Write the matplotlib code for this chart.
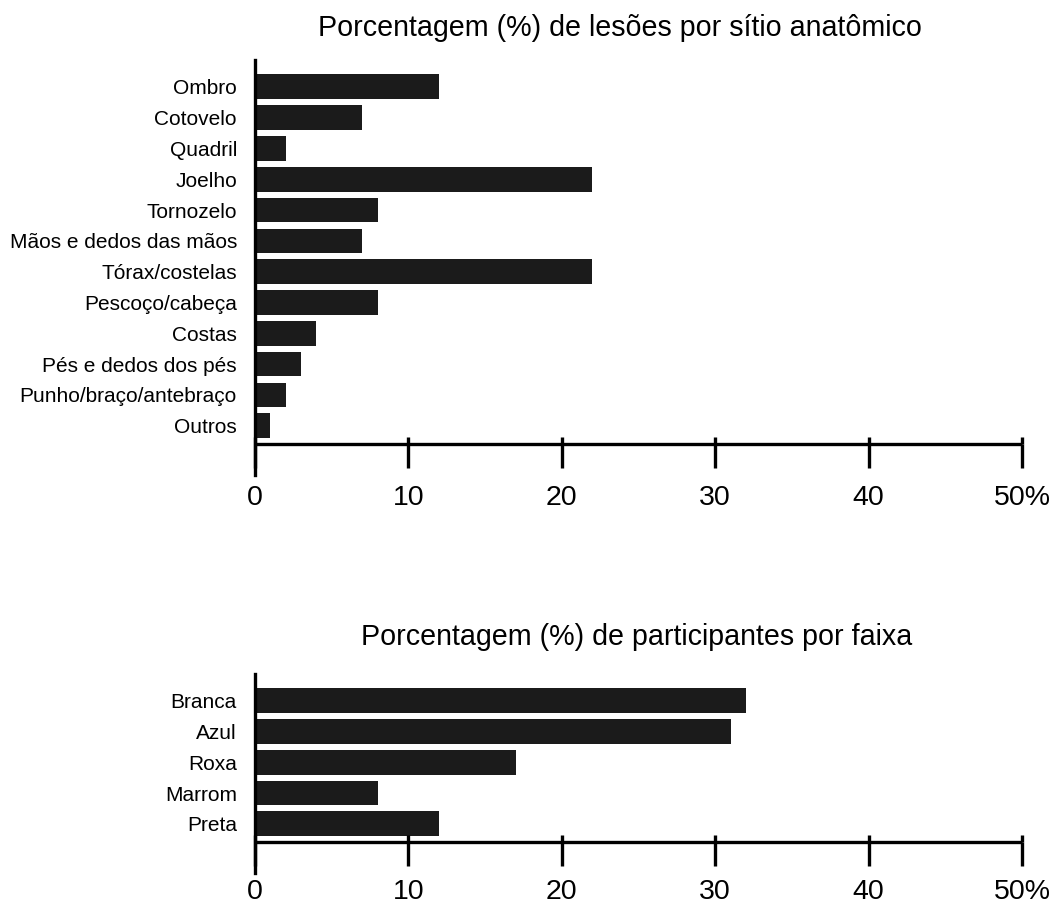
import matplotlib
matplotlib.use("Agg")
import matplotlib.pyplot as plt
import numpy as np

# data
sites = ["Ombro", "Cotovelo", "Quadril", "Joelho", "Tornozelo",
         "Mãos e dedos das mãos", "Tórax/costelas", "Pescoço/cabeça",
         "Costas", "Pés e dedos dos pés", "Punho/braço/antebraço", "Outros"]
site_pct = [12, 7, 2, 22, 8, 7, 22, 8, 4, 3, 2, 1]

belts = ["Branca", "Azul", "Roxa", "Marrom", "Preta"]
belt_pct = [32, 31, 17, 8, 12]

xticks = [0, 10, 20, 30, 40, 50]
xtick_labels = ["0", "10", "20", "30", "40", "50%"]

titles = ["Porcentagem (%) de lesões por sítio anatômico",
          "Porcentagem (%) de participantes por faixa"]

plt.rcParams['font.family'] = ['Liberation Sans', 'DejaVu Sans']

BAR = '#1b1b1b'
LW = 2.4

fig = plt.figure(figsize=(10.56, 9.06), dpi=100)
W, H = 1056, 906


def panel(rect_px, cats, vals, title, title_x, title_dy, label_pad):
    x0, y0, x1, y1 = rect_px  # pixel box, y from top
    ax = fig.add_axes([x0 / W, 1 - y1 / H, (x1 - x0) / W, (y1 - y0) / H])
    n = len(cats)
    pos = np.arange(n)
    ax.barh(pos, vals, height=0.8, color=BAR, zorder=1)
    ax.set_ylim(n - 1 + 1.6, -0.87)
    ax.set_xlim(0, 50)
    ax.set_yticks(pos)
    ax.set_yticklabels(cats, fontsize=15)
    ax.tick_params(axis='y', length=0, pad=13)
    ax.spines['top'].set_visible(False)
    ax.spines['right'].set_visible(False)
    ax.spines['left'].set_linewidth(LW)
    ax.spines['bottom'].set_linewidth(LW)
    ax.spines['bottom'].set_position(('data', n - 1 + 0.6))
    ax.spines['bottom'].set_capstyle('butt')
    ax.set_xticks(xticks)
    ax.set_xticklabels(xtick_labels, fontsize=20.5)
    ax.set_xticks(xticks, minor=True)
    ax.xaxis.remove_overlapping_locs = False
    ax.tick_params(axis='x', which='major', direction='out', length=17.5,
                   width=LW, pad=label_pad)
    ax.tick_params(axis='x', which='minor', direction='in', length=5,
                   width=LW)
    ax.text(title_x, 1 + title_dy / (y1 - y0), title, transform=ax.transAxes,
            ha='center', va='center', fontsize=20.6)
    ax.set_facecolor('none')
    return ax


panel((255, 60, 1022, 475), sites, site_pct, titles[0], 0.476, 32, 12)
panel((255, 674, 1022, 873), belts, belt_pct, titles[1], 0.498, 37, 9)

fig.savefig("out.png", dpi=100)
